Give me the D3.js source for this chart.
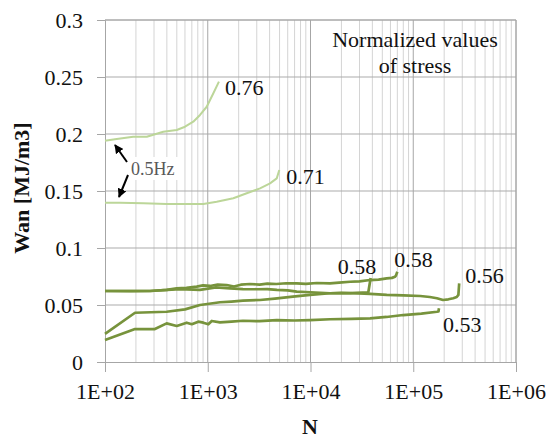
<!DOCTYPE html>
<html>
<head>
<meta charset="utf-8">
<script src="https://cdn.jsdelivr.net/npm/d3@7"></script>
<style>
  html, body { margin: 0; padding: 0; background: #fff; }
  svg { display: block; }
</style>
</head>
<body>
<svg id="chart" width="551" height="438"></svg>
<script>
// Cycle counts N and anelastic energy Wan [MJ/m3] for each normalized stress level
const n076 = [100, 125, 188, 255, 369, 499, 601, 723, 841, 977, 1134, 1285];
const w076 = [0.1941, 0.1953, 0.1976, 0.1976, 0.2020, 0.2035, 0.2064, 0.2108, 0.2167, 0.2239, 0.2357, 0.2459];

const n071 = [100, 140, 236, 398, 623, 906, 1222, 1774, 2393, 3228, 4038, 4692, 4969];
const w071 = [0.1397, 0.1397, 0.1392, 0.1386, 0.1386, 0.1386, 0.1406, 0.1436, 0.1480, 0.1523, 0.1567, 0.1611, 0.1684];

const n058a = [100, 196, 398, 601, 841, 1315, 1700, 2199, 3228, 4500, 6737, 9900, 15480, 24300, 32000, 36500, 38500];
const w058a = [0.0246, 0.0432, 0.0441, 0.0462, 0.0500, 0.0524, 0.0530, 0.0538, 0.0544, 0.0556, 0.0573, 0.0588, 0.0603, 0.0605, 0.0608, 0.0610, 0.0737];

const n058b = [100, 180, 274, 400, 498, 620, 781, 900, 1053, 1250, 1527, 1800, 2100, 2572, 3200, 3800, 4656, 5800, 7342, 9000, 11500, 15480, 19000, 24300, 30000, 38000, 46000, 55200, 62000, 66500, 68000, 70000];
const w058b = [0.0623, 0.0622, 0.0623, 0.0632, 0.0646, 0.0650, 0.0661, 0.0672, 0.0667, 0.0680, 0.0675, 0.0662, 0.0678, 0.0684, 0.0679, 0.0688, 0.0684, 0.0691, 0.0690, 0.0686, 0.0693, 0.0690, 0.0697, 0.0704, 0.0708, 0.0719, 0.0722, 0.0734, 0.0738, 0.0748, 0.0760, 0.0792];

const n056 = [100, 274, 537, 840, 1200, 1645, 2200, 2997, 3800, 4704, 6000, 7342, 10000, 15480, 20000, 25900, 38000, 55200, 80000, 117000, 145000, 170000, 195000, 220000, 245000, 265000, 275000, 280000];
const w056 = [0.0623, 0.0623, 0.0640, 0.0632, 0.0655, 0.0646, 0.0640, 0.0638, 0.0640, 0.0632, 0.0628, 0.0617, 0.0612, 0.0603, 0.0606, 0.0603, 0.0598, 0.0588, 0.0585, 0.0579, 0.0570, 0.0559, 0.0544, 0.0550, 0.0559, 0.0570, 0.0588, 0.0690];

const n053 = [100, 196, 306, 398, 499, 624, 699, 809, 906, 1013, 1094, 1315, 1700, 2200, 3200, 4700, 7000, 9900, 15500, 25000, 38000, 55000, 79800, 120000, 170000, 176000, 178000];
const w053 = [0.0193, 0.0289, 0.0289, 0.0339, 0.0316, 0.0345, 0.0331, 0.0354, 0.0345, 0.0331, 0.0360, 0.0348, 0.0355, 0.0362, 0.0358, 0.0368, 0.0364, 0.0368, 0.0375, 0.0378, 0.0383, 0.0395, 0.0412, 0.0425, 0.0441, 0.0443, 0.0471];

const stressLabels = ["0.76", "0.71", "0.58", "0.58", "0.56", "0.53"];
const xTickValues = [1e2, 1e3, 1e4, 1e5, 1e6];
const xTickLabels = ["1E+02", "1E+03", "1E+04", "1E+05", "1E+06"];
const yTickValues = [0, 0.05, 0.1, 0.15, 0.2, 0.25, 0.3];
const yTickLabels = ["0", "0.05", "0.1", "0.15", "0.2", "0.25", "0.3"];

const serif = "'Liberation Serif', 'Times New Roman', serif";
const svg = d3.select("#chart");
const plotLeft = 105, plotRight = 516, plotTop = 20, plotBottom = 362;

const x = d3.scaleLog().domain([1e2, 1e6]).range([plotLeft, plotRight]);
const y = d3.scaleLinear().domain([0, 0.3]).range([plotBottom, plotTop]);

const light = "#bcd699";
const dark = "#77933c";

// minor vertical gridlines (2..9 within each decade)
const minor = [];
for (let d = 2; d < 6; d++) for (let k = 2; k <= 9; k++) minor.push(k * Math.pow(10, d));
svg.append("g").selectAll("line").data(minor).join("line")
  .attr("x1", d => x(d)).attr("x2", d => x(d))
  .attr("y1", plotTop).attr("y2", plotBottom)
  .attr("stroke", "#d4d4d4").attr("stroke-width", 1);

// horizontal gridlines
svg.append("g").selectAll("line").data(yTickValues.slice(1)).join("line")
  .attr("x1", plotLeft).attr("x2", plotRight)
  .attr("y1", d => y(d)).attr("y2", d => y(d))
  .attr("stroke", "#ababab").attr("stroke-width", 1);

// major vertical gridlines
svg.append("g").selectAll("line").data(xTickValues.slice(1)).join("line")
  .attr("x1", d => x(d)).attr("x2", d => x(d))
  .attr("y1", plotTop).attr("y2", plotBottom)
  .attr("stroke", "#a6a6a6").attr("stroke-width", 1);

// axes
const xAxis = d3.axisBottom(x).tickValues(xTickValues)
  .tickFormat((d, i) => xTickLabels[i]).tickSize(10).tickPadding(11);
const gx = svg.append("g").attr("transform", `translate(0,${plotBottom})`).call(xAxis);
gx.select(".domain").attr("stroke", "#a6a6a6");
gx.selectAll(".tick line").attr("stroke", "#a6a6a6");
gx.selectAll("text").style("font-family", serif).style("font-size", "22px").attr("fill", "#111");

const yAxis = d3.axisLeft(y).tickValues(yTickValues)
  .tickFormat((d, i) => yTickLabels[i]).tickSize(8).tickPadding(14);
const gy = svg.append("g").attr("transform", `translate(${plotLeft},0)`).call(yAxis);
gy.select(".domain").attr("stroke", "#a6a6a6");
gy.selectAll(".tick line").attr("stroke", "#a6a6a6");
gy.selectAll("text").style("font-family", serif).style("font-size", "22px").attr("fill", "#111");

// frame top and right
svg.append("line").attr("x1", plotLeft).attr("x2", plotRight).attr("y1", plotTop).attr("y2", plotTop)
  .attr("stroke", "#a6a6a6");
svg.append("line").attr("x1", plotRight).attr("x2", plotRight).attr("y1", plotTop).attr("y2", plotBottom)
  .attr("stroke", "#a6a6a6");

// series
const series = [
  { n: n076, w: w076, color: light, width: 2 },
  { n: n071, w: w071, color: light, width: 2 },
  { n: n058a, w: w058a, color: dark, width: 2.7 },
  { n: n058b, w: w058b, color: dark, width: 2.7 },
  { n: n056, w: w056, color: dark, width: 2.7 },
  { n: n053, w: w053, color: dark, width: 2.7 }
];
const line = d3.line().x(d => x(d[0])).y(d => y(d[1]));
svg.append("g").selectAll("path").data(series).join("path")
  .attr("d", s => line(s.n.map((v, i) => [v, s.w[i]])))
  .attr("fill", "none")
  .attr("stroke", s => s.color)
  .attr("stroke-width", s => s.width)
  .attr("stroke-linejoin", "round");

// stress level labels, placed next to the end of each curve
const labelOffsets = [[6, 13], [7, 14], [-33, -4], [-3, -5], [6, 0], [4, 24]];
svg.append("g").selectAll("text").data(series).join("text")
  .attr("x", (s, i) => x(s.n[s.n.length - 1]) + labelOffsets[i][0])
  .attr("y", (s, i) => y(s.w[s.w.length - 1]) + labelOffsets[i][1])
  .style("font-family", serif).style("font-size", "22px").attr("fill", "#111")
  .text((s, i) => stressLabels[i]);

// frequency note with arrows
const defs = svg.append("defs");
defs.append("marker").attr("id", "arrowhead")
  .attr("viewBox", "0 0 10 10").attr("refX", 9).attr("refY", 5)
  .attr("markerWidth", 4.5).attr("markerHeight", 4.5).attr("orient", "auto")
  .append("path").attr("d", "M0,0 L10,5 L0,10 z").attr("fill", "#000");

svg.append("rect").attr("x", 129).attr("y", 157).attr("width", 50).attr("height", 23)
  .attr("fill", "#fff");
svg.append("text").attr("x", 131).attr("y", 175)
  .style("font-family", serif).style("font-size", "18px")
  .attr("fill", "#595959").text("0.5Hz");
svg.append("line").attr("x1", 127).attr("y1", 162).attr("x2", 115).attr("y2", 145)
  .attr("stroke", "#000").attr("stroke-width", 2).attr("marker-end", "url(#arrowhead)");
svg.append("line").attr("x1", 128).attr("y1", 175).attr("x2", 119).attr("y2", 197)
  .attr("stroke", "#000").attr("stroke-width", 2).attr("marker-end", "url(#arrowhead)");

// legend note
const note = svg.append("text").attr("text-anchor", "middle")
  .style("font-family", serif).style("font-size", "22px").attr("fill", "#111");
note.append("tspan").attr("x", 415).attr("y", 47).text("Normalized values");
note.append("tspan").attr("x", 415).attr("y", 73).text("of stress");

// axis titles
svg.append("text").attr("x", 310).attr("y", 434).attr("text-anchor", "middle")
  .style("font-family", serif).style("font-size", "22px").style("font-weight", "bold")
  .attr("fill", "#111").text("N");
svg.append("text").attr("transform", "translate(29,188) rotate(-90)")
  .attr("text-anchor", "middle")
  .style("font-family", serif).style("font-size", "22px").style("font-weight", "bold")
  .attr("fill", "#111").text("Wan [MJ/m3]");
</script>
</body>
</html>
